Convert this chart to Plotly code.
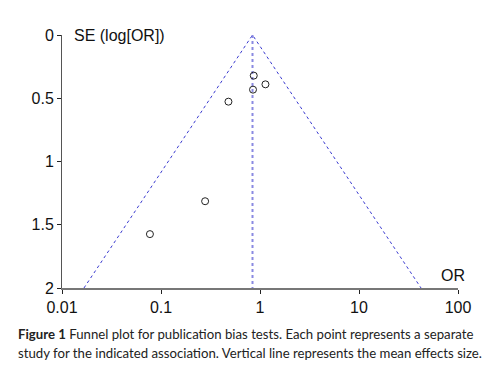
import numpy as np
import plotly.graph_objects as go

# Study data (odds ratios and standard errors of log OR)
study_or = [0.865, 0.85, 1.135, 0.48, 0.279, 0.0773]
study_se = [0.321, 0.432, 0.39, 0.527, 1.314, 1.574]
mean_or = 0.84
se_max = 2.0
z = 1.96

x_ticks = [0.01, 0.1, 1, 10, 100]
x_ticktext = ["0.01", "0.1", "1", "10", "100"]
y_ticks = [0, 0.5, 1, 1.5, 2]
y_ticktext = ["0", "0.5", "1", "1.5", "2"]

funnel_x = [mean_or * np.exp(-z * se_max), mean_or, mean_or * np.exp(z * se_max)]
funnel_y = [se_max, 0, se_max]

fig = go.Figure()
fig.add_trace(go.Scatter(x=funnel_x, y=funnel_y, mode="lines",
                         line=dict(color="#3b3bd0", width=1, dash="dot"),
                         hoverinfo="skip"))
fig.add_trace(go.Scatter(x=[mean_or, mean_or], y=[0, se_max], mode="lines",
                         line=dict(color="#8a8ae2", width=2, dash="dot"),
                         hoverinfo="skip"))
fig.add_trace(go.Scatter(x=study_or, y=study_se, mode="markers",
                         marker=dict(symbol="circle-open", size=7,
                                     color="#222", line=dict(width=1, color="#222"))))

tick_font = dict(family="Liberation Sans, Arial, sans-serif", size=16, color="#111")
cap_font = dict(family="Lato, sans-serif", size=13.2, color="#222")

fig.update_layout(
    width=493, height=369,
    margin=dict(l=62, r=35, t=35, b=81),
    paper_bgcolor="white", plot_bgcolor="white",
    showlegend=False,
    xaxis=dict(type="log", range=[-2, 2], tickvals=x_ticks, ticktext=x_ticktext,
               showgrid=False, zeroline=False, showline=True, linecolor="#777",
               linewidth=2, ticks="outside", ticklen=4, tickcolor="#222",
               tickfont=tick_font),
    yaxis=dict(range=[2, 0], tickvals=y_ticks, ticktext=y_ticktext,
               showgrid=False, zeroline=False, showline=True, linecolor="#555",
               linewidth=1, ticks="outside", ticklen=4, tickcolor="#222",
               tickfont=tick_font),
    annotations=[
        dict(text="SE (log[OR])", xref="paper", x=0, xshift=10, xanchor="left",
             yref="y", y=0, yanchor="middle", showarrow=False, font=tick_font),
        dict(text="OR", xref="paper", x=1, xshift=9, xanchor="right",
             yref="y", y=2, yanchor="bottom", yshift=2, showarrow=False, font=tick_font),
        dict(text="<b>Figure 1</b> Funnel plot for publication bias tests. Each point represents a separate",
             xref="paper", x=0, xshift=-46, xanchor="left",
             yref="paper", y=-(334 - 288) / 253, yanchor="middle",
             showarrow=False, font=cap_font),
        dict(text="study for the indicated association. Vertical line represents the mean effects size.",
             xref="paper", x=0, xshift=-46, xanchor="left",
             yref="paper", y=-(353 - 288) / 253, yanchor="middle",
             showarrow=False, font=cap_font),
    ],
)

fig.write_html("out.html", config={"displayModeBar": False},
               post_script="document.body.style.margin='0';document.body.style.overflow='hidden';")
